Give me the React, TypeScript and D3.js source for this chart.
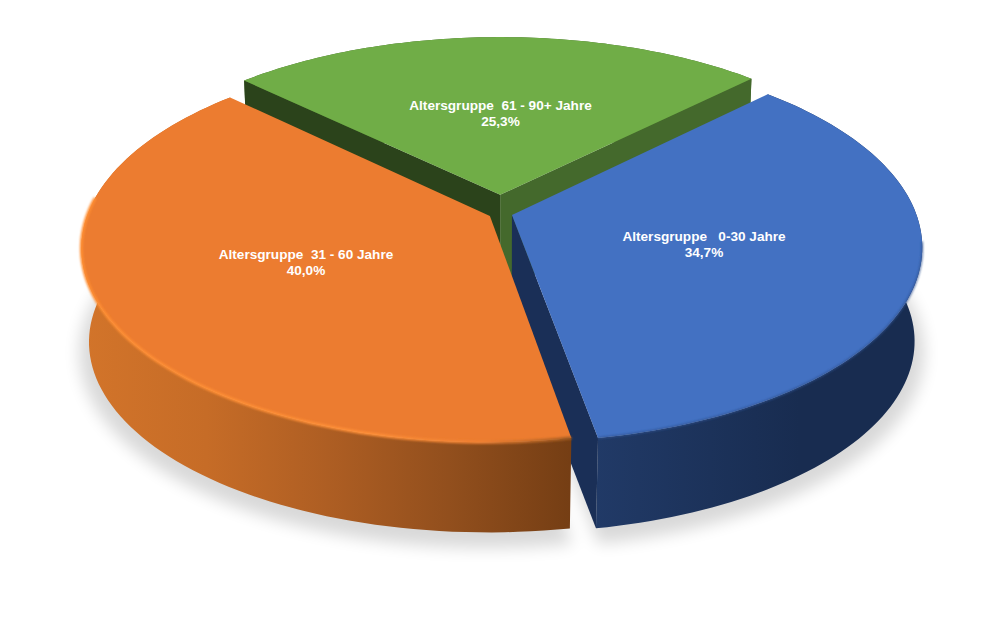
import React from 'react';
import * as d3 from 'd3';

const labels = ['Altersgruppe   0-30 Jahre', 'Altersgruppe  31 - 60 Jahre', 'Altersgruppe  61 - 90+ Jahre'];
const shares = [34.7, 40.0, 25.3];
const shareLabels = ['34,7%', '40,0%', '25,3%'];

const topColors = ['#4371C2', '#EC7C30', '#70AD47'];
const explode = [12, 12, 40];
const radii = [404, 402, 401];
const labelPos: [number, number][] = [[704, 236], [306, 254], [500.5, 105]];

const cx = 500.5;
const cy = 213.3;
const tilt = 0.47;
const persp = 0.0004;
const depth = 95;
const depthPersp = 0.018;
const steps = 90;
const firstAngle = (25.3 / 100) * Math.PI - 0.0087;

type Pt = [number, number];

// plane coordinates -> screen, z is 0 on the top face and 1 on the bottom face
const project = (x: number, y: number, z: number): Pt => {
  const w = 1 / (1 + persp * y + depthPersp * z);
  return [cx + x * w, cy - tilt * y * w + depth * z];
};

const pie = d3.pie<number>().sort(null).value(d => d)
  .startAngle(firstAngle)
  .endAngle(firstAngle + 2 * Math.PI);
const arcs = pie(shares);

const line = d3.line<Pt>();

const midAngle = (i: number) => (arcs[i].startAngle + arcs[i].endAngle) / 2;

const rim = (i: number, z: number, grow = 1): Pt[] => {
  const a = arcs[i];
  const ox = explode[i] * Math.sin(midAngle(i));
  const oy = explode[i] * Math.cos(midAngle(i));
  return d3.range(steps + 1).map(k => {
    const t = a.startAngle + ((a.endAngle - a.startAngle) * k) / steps;
    return project(ox + grow * radii[i] * Math.sin(t), oy + grow * radii[i] * Math.cos(t), z);
  });
};

const apex = (i: number, z: number): Pt =>
  project(explode[i] * Math.sin(midAngle(i)), explode[i] * Math.cos(midAngle(i)), z);

const topFace = (i: number) => line([apex(i, 0), ...rim(i, 0)]) + 'Z';
const shadowFace = (i: number) => line([apex(i, 1.1), ...rim(i, 1.1, 1.025)]) + 'Z';
const outerWall = (i: number) => line([...rim(i, 0), ...rim(i, 1).reverse()]) + 'Z';
const sideWall = (i: number, k: number) =>
  line([apex(i, 0), rim(i, 0)[k], rim(i, 1)[k], apex(i, 1)]) + 'Z';

interface SliceProps {
  i: number;
  wall: string;
  startWall?: string;
  endWall?: string;
  edge?: string;
  edgeWidth?: number;
  edgeFrom?: number;
  edgeTo?: number;
}

// only the inner walls that face the viewer get a colour
const Slice: React.FC<SliceProps> = ({ i, wall, startWall, endWall, edge, edgeWidth, edgeFrom = 0, edgeTo = steps }) => (
  <g>
    <path d={outerWall(i)} fill={wall} />
    {startWall && <path d={sideWall(i, 0)} fill={startWall} />}
    {endWall && <path d={sideWall(i, steps)} fill={endWall} />}
    <path d={topFace(i)} fill={topColors[i]} />
    {edge && (
      <path
        d={line(rim(i, 0).slice(edgeFrom, edgeTo + 1)) || ''}
        fill="none"
        stroke={edge}
        strokeWidth={edgeWidth}
        filter="url(#soft)"
      />
    )}
  </g>
);

export default function App() {
  return (
    <svg width={1001} height={624} style={{ position: 'absolute', left: 0, top: 0, display: 'block' }}>
      <defs>
        <filter id="shadow" x="-10%" y="-10%" width="120%" height="130%">
          <feGaussianBlur stdDeviation="8" />
        </filter>
        <filter id="soft" x="-5%" y="-5%" width="110%" height="110%">
          <feGaussianBlur stdDeviation="0.9" />
        </filter>
        <linearGradient id="orange-wall" gradientUnits="userSpaceOnUse" x1="85" x2="570" y1="0" y2="0">
          <stop offset="0%" stopColor="#D2742A" />
          <stop offset="25%" stopColor="#C66C27" />
          <stop offset="50%" stopColor="#AE5E23" />
          <stop offset="75%" stopColor="#924F1D" />
          <stop offset="100%" stopColor="#753E14" />
        </linearGradient>
        <linearGradient id="blue-wall" gradientUnits="userSpaceOnUse" x1="594" x2="800" y1="0" y2="0">
          <stop offset="0%" stopColor="#213A67" />
          <stop offset="100%" stopColor="#182C50" />
        </linearGradient>
        <linearGradient id="orange-edge" gradientUnits="userSpaceOnUse" x1="85" x2="570" y1="0" y2="0">
          <stop offset="0%" stopColor="#FF8E33" />
          <stop offset="60%" stopColor="#FF9038" />
          <stop offset="82%" stopColor="#EE8033" />
          <stop offset="100%" stopColor="#A05A20" />
        </linearGradient>
      </defs>

      {/* soft shadow under the three slices */}
      <g filter="url(#shadow)" fill="#000" opacity={0.15}>
        {arcs.map((_, i) => (
          <path key={i} d={shadowFace(i)} />
        ))}
      </g>

      <Slice i={2} wall="#44692C" startWall="#2B431B" endWall="#44692C" />
      <Slice i={0} wall="url(#blue-wall)" endWall="#1A2F57" edge="#2F5190" edgeWidth={1.5} edgeFrom={38} />
      <Slice i={1} wall="url(#orange-wall)" edge="url(#orange-edge)" edgeWidth={3} edgeTo={66} />

      {labels.map((label, i) => (
        <text
          key={label}
          x={labelPos[i][0]}
          y={labelPos[i][1]}
          textAnchor="middle"
          fill="#fff"
          fontFamily="'Liberation Sans', Arial, sans-serif"
          fontWeight="bold"
          fontSize={13.6}
          style={{ whiteSpace: 'pre' }}
        >
          <tspan x={labelPos[i][0]} dy="4.5">{label}</tspan>
          <tspan x={labelPos[i][0]} dy="16">{shareLabels[i]}</tspan>
        </text>
      ))}
    </svg>
  );
}
